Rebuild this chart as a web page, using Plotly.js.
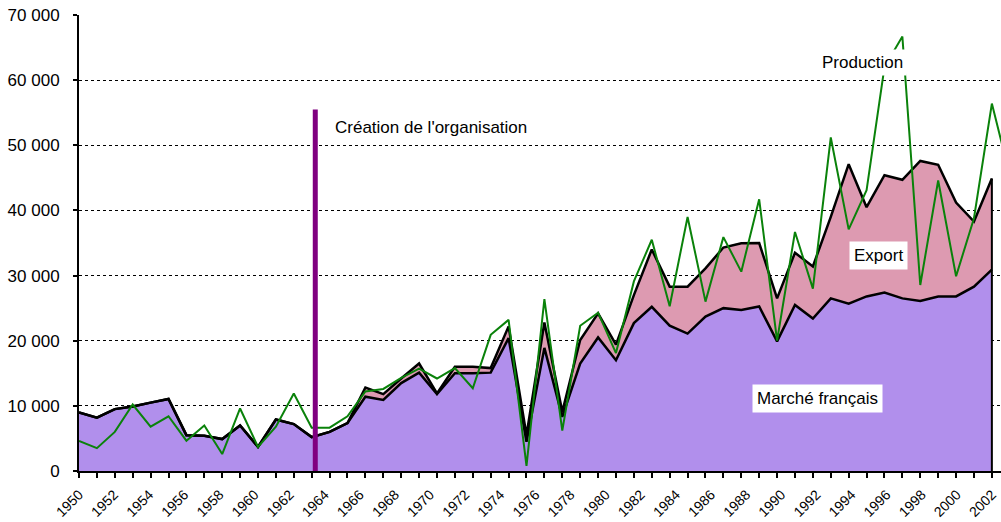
<!DOCTYPE html>
<html>
<head>
<meta charset="utf-8">
<script src="https://cdn.plot.ly/plotly-3.0.1.min.js"></script>
<style>html,body{margin:0;padding:0;background:#fff;}#chart{width:1001px;height:522px;}</style>
</head>
<body>
<div id="chart"></div>
<script>
// Years of the data points (area series: 52 points, production: 53 points)
const years = [1950,1951,1952,1953,1954,1955,1956,1957,1958,1959,1960,1961,1962,1963,1964,1965,1966,1967,1968,1969,
  1970,1971,1972,1973,1974,1975,1976,1977,1978,1979,1980,1981,1982,1983,1984,1985,1986,1987,1988,1989,
  1990,1991,1992,1993,1994,1995,1996,1997,1998,1999,2000,2001,2002];

// Tick labels shown under the axis
const labelYears = [1950,1952,1954,1956,1958,1960,1962,1964,1966,1968,1970,1972,1974,1976,1978,1980,1982,1984,1986,1988,1990,1992,1994,1996,1998,2000,2002];

// Marché français
const marcheFrancais = [9000,8200,9500,9900,10500,11050,5500,5400,4900,7000,3700,7900,7200,5200,6000,7350,
  11400,10900,13500,15100,11800,15000,15000,15100,20400,4500,18900,8300,16500,20500,17000,22700,25200,22300,
  21100,23700,25000,24700,25250,19900,25500,23400,26500,25700,26800,27400,26500,26100,26800,26800,28300,30900];

// Export
const exportVals = [0,0,0,0,0,0,0,0,0,0,0,0,0,0,0,0,
  1400,900,700,1400,100,1000,1000,700,1800,1000,3900,800,3600,3700,2400,4300,8800,6000,
  7200,7400,9300,10250,9750,6600,8000,8000,12500,21400,13700,18000,18200,21500,20200,14400,10000,14000];

// Production
const production = [4600,3500,6000,10200,6800,8400,4650,7000,2600,9600,3700,6800,11900,6650,6650,8400,
  12200,12600,14300,15700,14200,15800,12700,20900,23200,800,26400,6200,22300,24300,18100,29100,35500,25300,
  39000,26000,35900,30600,41700,20000,36700,28000,51200,37100,43100,62000,66700,28550,44600,29900,38800,56400,45400];

const creationYear = 1963.2;   // vertical marker "Création de l'organisation"
const creationTop = 55500;

const areaYears = years.slice(0, marcheFrancais.length);
const lastYear = areaYears[areaYears.length - 1];
const lastTotal = marcheFrancais[marcheFrancais.length - 1] + exportVals[exportVals.length - 1];

const FONT = 'Liberation Sans, Arial, sans-serif';

const traces = [
  {x: areaYears, y: marcheFrancais, type: 'scatter', mode: 'lines', stackgroup: 'one',
   fillcolor: '#b18fec', line: {color: '#000', width: 2.5}, name: 'Marché français', hoverinfo: 'skip'},
  {x: areaYears, y: exportVals, type: 'scatter', mode: 'lines', stackgroup: 'one',
   fillcolor: '#dd9ab1', line: {color: '#000', width: 2.5}, name: 'Export', hoverinfo: 'skip'},
  {x: [lastYear, lastYear], y: [0, lastTotal], type: 'scatter', mode: 'lines',
   line: {color: '#000', width: 2}, hoverinfo: 'skip'},
  {x: years, y: production, type: 'scatter', mode: 'lines',
   line: {color: '#0a820a', width: 2}, name: 'Production', hoverinfo: 'skip'},
  {x: labelYears, y: labelYears.map(() => 0), xaxis: 'x2', type: 'scatter', mode: 'markers',
   marker: {opacity: 0}, hoverinfo: 'skip'}
];

const layout = {
  width: 1001, height: 522,
  margin: {l: 79, r: 0, t: 15, b: 51, pad: 0},
  paper_bgcolor: '#fff', plot_bgcolor: '#fff',
  separators: ', ',
  showlegend: false,
  font: {family: FONT, color: '#000'},
  xaxis: {
    range: [1950, 2001.51], showline: true, linecolor: '#000', linewidth: 2,
    ticks: 'outside', tickvals: areaYears, ticklen: 5, tickwidth: 2, tickcolor: '#000',
    showticklabels: false, showgrid: false, zeroline: false, fixedrange: true
  },
  xaxis2: {
    overlaying: 'x', anchor: 'y', side: 'bottom', range: [1950, 2002.51],
    tickvals: labelYears, ticktext: labelYears.map(String), tickangle: -45,
    ticks: 'outside', ticklen: 9, tickcolor: 'rgba(0,0,0,0)',
    showgrid: false, showline: false, zeroline: false,
    tickfont: {size: 14, family: FONT, color: '#000'}
  },
  yaxis: {
    range: [0, 70000], dtick: 10000, tickformat: ',d',
    showline: true, linecolor: '#000', linewidth: 2,
    ticks: 'outside', ticklen: 4, tickwidth: 2, tickcolor: '#000',
    ticklabelstandoff: 10,
    showgrid: true, gridcolor: '#000', gridwidth: 1, griddash: 'dot',
    zeroline: false,
    tickfont: {size: 17, family: FONT, color: '#000'}
  },
  shapes: [
    {type: 'line', xref: 'x', yref: 'y', x0: creationYear, x1: creationYear, y0: 0, y1: creationTop,
     line: {color: '#800080', width: 5}, layer: 'above'}
  ],
  annotations: [
    {text: "Création de l'organisation", xref: 'paper', yref: 'paper', x: 0.2755, y: 0.754,
     xanchor: 'left', yanchor: 'middle', showarrow: false, font: {size: 17}},
    {text: 'Production', xref: 'paper', yref: 'paper', x: 0.850, y: 0.895,
     xanchor: 'center', yanchor: 'middle', showarrow: false, font: {size: 17}, bgcolor: '#fff', borderpad: 3},
    {text: 'Export', xref: 'paper', yref: 'paper', x: 0.8666, y: 0.4715,
     xanchor: 'center', yanchor: 'middle', showarrow: false, font: {size: 17}, bgcolor: '#fff', borderpad: 4},
    {text: 'Marché français', xref: 'paper', yref: 'paper', x: 0.801, y: 0.159,
     xanchor: 'center', yanchor: 'middle', showarrow: false, font: {size: 17}, bgcolor: '#fff', borderpad: 4}
  ]
};

Plotly.newPlot('chart', traces, layout, {staticPlot: true, displayModeBar: false});
</script>
</body>
</html>
